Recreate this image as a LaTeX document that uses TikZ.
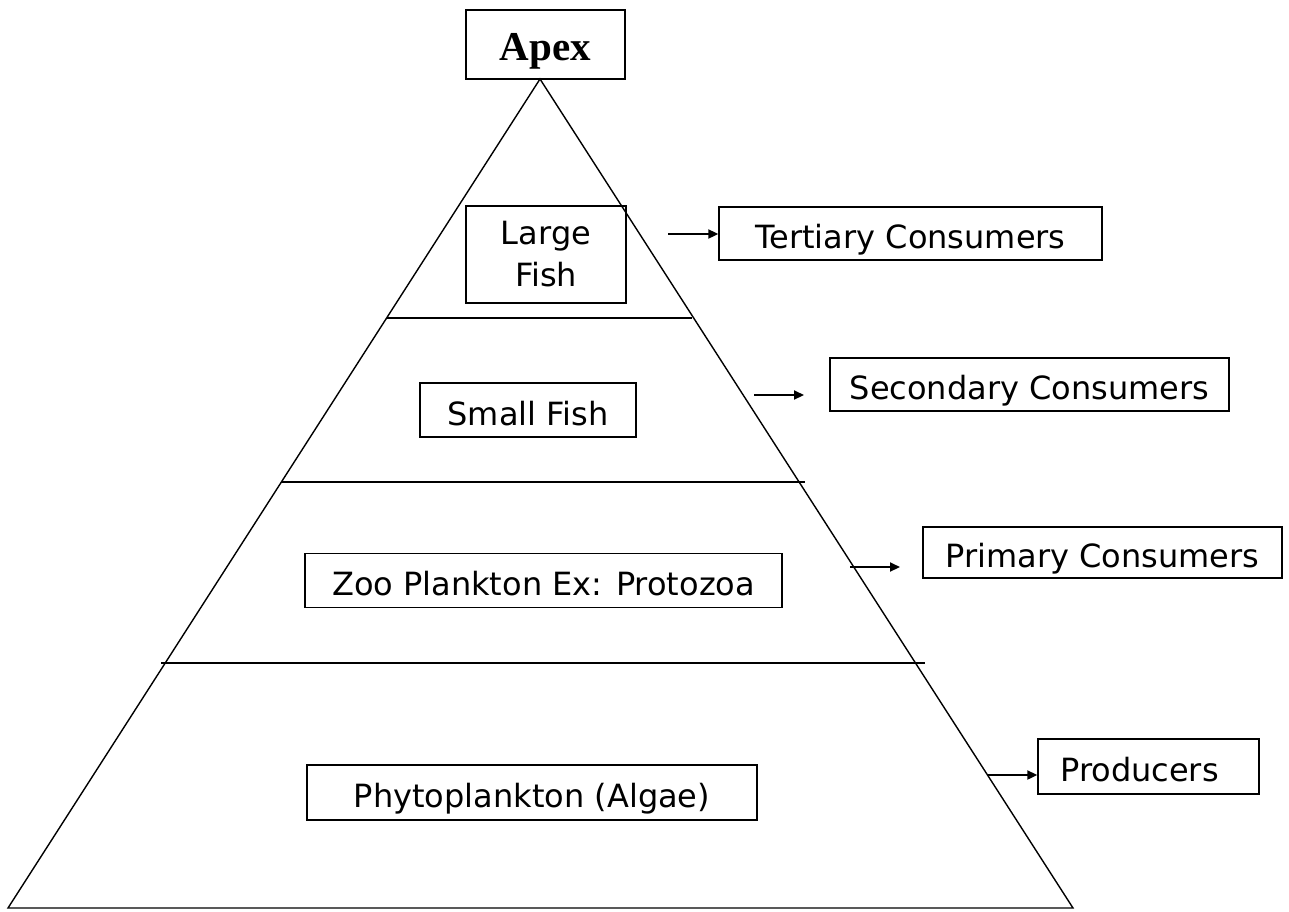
\documentclass[tikz,border=0pt]{standalone}
\usepackage{fontspec}
\setmainfont{DejaVu Sans}
\newfontfamily\apexfont{Liberation Serif}
\usetikzlibrary{arrows.meta}
\tikzset{
  box/.style={draw, line width=1.4pt, inner sep=0pt, align=center, font=\fontsize{32}{42}\selectfont},
  onebox/.style={box, text height=30.4pt, text depth=0pt},
  edge/.style={line width=1.4pt, line join=miter},
  level/.style={line width=2pt},
  pointer/.style={line width=2pt, -{Triangle[length=10pt,width=9pt]}}
}
\begin{document}
\begin{tikzpicture}[x=1pt,y=-1pt]
\useasboundingbox (0,0) rectangle (1289,911);
% pyramid
\coordinate (T) at (540,79);
\coordinate (BL) at (8,908);
\coordinate (BR) at (1073,908);
\draw[edge] (T) -- (BL) -- (BR) -- cycle;
\coordinate (l1a) at (387,318); \coordinate (l1b) at (692,318);
\coordinate (l2a) at (281,482); \coordinate (l2b) at (805,482);
\coordinate (l3a) at (161,663); \coordinate (l3b) at (925,663);
\draw[level] (l1a) -- (l1b);
\draw[level] (l2a) -- (l2b);
\draw[level] (l3a) -- (l3b);
% boxes
\node[box, minimum width=159pt, minimum height=69pt, text height=31pt, text depth=0pt, font=\apexfont\bfseries\fontsize{41}{41}\selectfont] (apex) at (545.5,44.5) {Apex};
\node[box, minimum width=160pt, minimum height=97pt] (large) at (546,254.5) {Large\\Fish};
\node[onebox, minimum width=383pt, minimum height=53pt] (tert) at (910.5,233.5) {Tertiary Consumers};
\node[onebox, minimum width=216pt, minimum height=54pt] (small) at (528,410) {Small Fish};
\node[onebox, minimum width=399pt, minimum height=53pt] (sec) at (1029.5,384.5) {Secondary Consumers};
\node[onebox, minimum width=477pt, minimum height=54pt] (zoo) at (543.5,580.5) {Zoo Plankton Ex: Protozoa};
\node[onebox, minimum width=359pt, minimum height=51pt] (prim) at (1102.5,552.5) {Primary Consumers};
\node[onebox, minimum width=450pt, minimum height=55pt] (phyto) at (532,792.5) {Phytoplankton (Algae)};
\node[onebox, minimum width=221pt, minimum height=55pt] (prod) at (1148.5,766.5) {Producers\hspace*{18pt}};
% pointers
\coordinate (a1) at (668,234);
\coordinate (a2s) at (754,395); \coordinate (a2e) at (804,395);
\coordinate (a3s) at (850,567); \coordinate (a3e) at (900,567);
\coordinate (a4) at (988,775);
\draw[pointer] (a1) -- (a1 -| tert.west);
\draw[pointer] (a2s) -- (a2e);
\draw[pointer] (a3s) -- (a3e);
\draw[pointer] (a4) -- (a4 -| prod.west);
\end{tikzpicture}
\end{document}
